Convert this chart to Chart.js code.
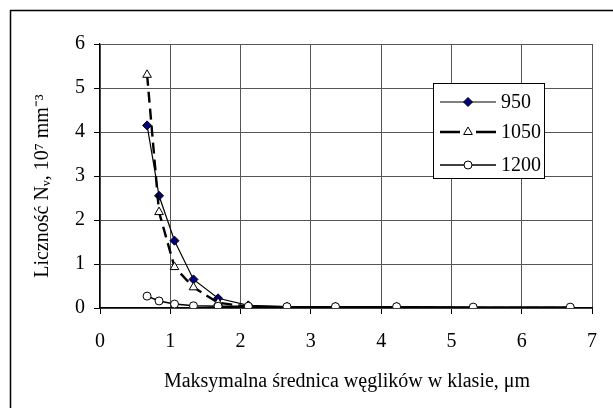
<!DOCTYPE html>
<html>
<head>
<meta charset="utf-8">
<script src="https://cdn.jsdelivr.net/npm/chart.js@4.4.0/dist/chart.umd.min.js"></script>
<style>
  html, body { margin: 0; padding: 0; background: #fff; }
  #wrap { width: 613px; height: 408px; position: relative; }
</style>
</head>
<body>
<div id="wrap"><canvas id="chart"></canvas></div>
<script>
// class sizes (um) and counts for each temperature
const sizes = [0.67, 0.84, 1.06, 1.33, 1.68, 2.11, 2.66, 3.35, 4.22, 5.31, 6.69];
const labels = ["950", "1050", "1200"];
const s950 = [4.15, 2.55, 1.53, 0.65, 0.22, 0.06, 0.03, 0.03, 0.02, 0.01, 0.01];
const s1050 = [5.3, 2.18, 0.93, 0.47, 0.12, 0.03, 0.01, 0.01, 0.01, 0.0, 0.0];
const s1200 = [0.27, 0.16, 0.09, 0.05, 0.04, 0.04, 0.03, 0.03, 0.03, 0.02, 0.02];
const xTicks = [0, 1, 2, 3, 4, 5, 6, 7];
const yTicks = [0, 1, 2, 3, 4, 5, 6];

const FONT = "Liberation Serif, Times New Roman, serif";
const pts = (ys) => sizes.map((x, i) => ({ x: x, y: ys[i] }));

// order: 1200 drawn on top, 950 at the bottom
const datasets = [
  {
    label: labels[0], data: pts(s950), order: 3,
    borderColor: "#000", borderWidth: 1.2,
    pointStyle: "rectRot", pointRadius: 4.5,
    pointBackgroundColor: "#000080", pointBorderColor: "#000", pointBorderWidth: 1
  },
  {
    label: labels[1], data: pts(s1050), order: 2,
    borderColor: "#000", borderWidth: 2.4, borderDash: [11, 6],
    pointStyle: "triangle", pointRadius: 5,
    pointBackgroundColor: "#fff", pointBorderColor: "#000", pointBorderWidth: 1
  },
  {
    label: labels[2], data: pts(s1200), order: 1,
    borderColor: "#000", borderWidth: 1.6,
    pointStyle: "circle", pointRadius: 4,
    pointBackgroundColor: "#fff", pointBorderColor: "#000", pointBorderWidth: 1
  }
];

// frame, axis titles and the legend box
const decor = {
  id: "decor",
  afterDraw(chart) {
    const ctx = chart.ctx;
    ctx.save();
    ctx.strokeStyle = "#000";
    ctx.lineWidth = 1.5;
    ctx.beginPath();
    ctx.moveTo(10.5, 420);
    ctx.lineTo(10.5, 10.5);
    ctx.lineTo(620, 10.5);
    ctx.stroke();

    ctx.fillStyle = "#000";
    ctx.font = "20px " + FONT;
    ctx.textAlign = "center";
    ctx.textBaseline = "middle";
    ctx.fillText("Maksymalna średnica węglików w klasie, μm", 347, 382);

    ctx.translate(43, 186);
    ctx.rotate(-Math.PI / 2);
    ctx.fillText("Liczność Nᵥ, 10⁷ mm⁻³", 0, 0);
    ctx.restore();

    // legend
    ctx.save();
    ctx.fillStyle = "#fff";
    ctx.fillRect(433, 83, 111, 95);
    ctx.strokeStyle = "#000";
    ctx.lineWidth = 1;
    ctx.strokeRect(433.5, 83.5, 111, 95);
    const rows = [102, 132, 165];
    chart.data.datasets.forEach((ds, i) => {
      const y = rows[i];
      ctx.strokeStyle = ds.borderColor;
      ctx.lineWidth = ds.borderWidth;
      ctx.beginPath();
      if (ds.borderDash) {
        ctx.moveTo(440, y); ctx.lineTo(460, y);
        ctx.moveTo(476, y); ctx.lineTo(496, y);
      } else {
        ctx.moveTo(440, y); ctx.lineTo(496, y);
      }
      ctx.stroke();
      ctx.fillStyle = ds.pointBackgroundColor;
      ctx.strokeStyle = ds.pointBorderColor;
      ctx.lineWidth = ds.pointBorderWidth;
      Chart.helpers.drawPoint(ctx, {
        pointStyle: ds.pointStyle, radius: ds.pointRadius, rotation: 0,
        borderWidth: ds.pointBorderWidth
      }, 468, y);
      ctx.fillStyle = "#000";
      ctx.font = "20px " + FONT;
      ctx.textAlign = "left";
      ctx.textBaseline = "middle";
      ctx.fillText(ds.label, 501, y + 1);
    });
    ctx.restore();
  }
};

new Chart(document.getElementById("chart"), {
  type: "line",
  data: { datasets: datasets },
  options: {
    responsive: true,
    maintainAspectRatio: false,
    animation: false,
    layout: { padding: { top: 44, right: 18, left: 0, bottom: 0 } },
    plugins: { legend: { display: false }, tooltip: { enabled: false } },
    scales: {
      x: {
        type: "linear", min: 0, max: 7,
        afterFit(s) { s.height = 100; },
        afterBuildTicks(s) { s.ticks = xTicks.map(v => ({ value: v })); },
        border: { display: true, color: "#000", width: 1.2 },
        grid: { color: "#555", lineWidth: 1, tickLength: 6, tickColor: "#000" },
        ticks: { color: "#000", padding: 16, font: { family: FONT, size: 20 } }
      },
      y: {
        min: 0, max: 6,
        afterFit(s) { s.width = 100; },
        afterBuildTicks(s) { s.ticks = yTicks.map(v => ({ value: v })); },
        border: { display: true, color: "#000", width: 1.2 },
        grid: { color: "#555", lineWidth: 1, tickLength: 6, tickColor: "#000" },
        ticks: { color: "#000", padding: 9, font: { family: FONT, size: 20 } }
      }
    }
  },
  plugins: [decor]
});
</script>
</body>
</html>
